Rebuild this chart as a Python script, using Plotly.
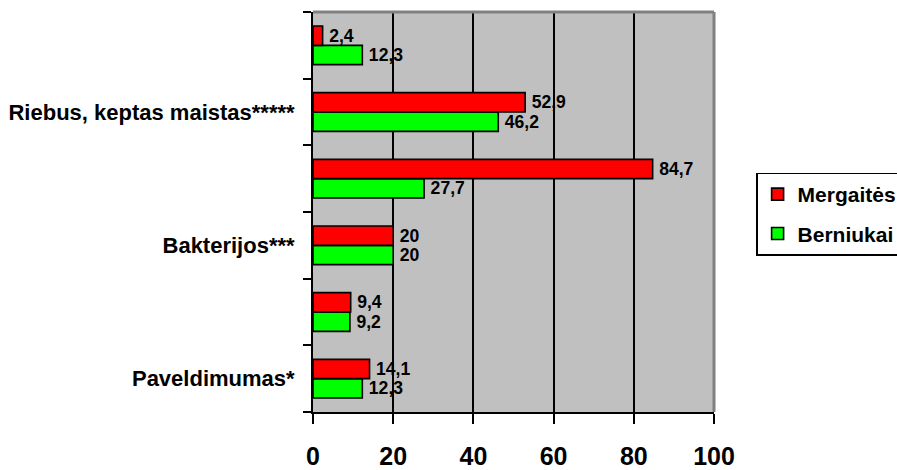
import plotly.graph_objects as go

categories = ["Paveldimumas*", "**", "Bakterijos***", "****", "Riebus, keptas maistas*****", "******"]
tick_labels = ["Paveldimumas*", "", "Bakterijos***", "", "Riebus, keptas maistas*****", ""]
mergaites = [14.1, 9.4, 20, 84.7, 52.9, 2.4]
berniukai = [12.3, 9.2, 20, 27.7, 46.2, 12.3]
x_ticks = [0, 20, 40, 60, 80, 100]


def fmt(v):
    s = ("%g" % v)
    return s.replace(".", ",")


font = "Liberation Sans, Arial, sans-serif"
label_pad = "\u2009"
fig = go.Figure()
fig.add_trace(go.Bar(
    y=categories, x=berniukai, orientation="h", name="Berniukai",
    legendgroup="b", legendrank=2,
    marker=dict(color="#00FF00", line=dict(color="black", width=1.6)),
    text=[label_pad + fmt(v) for v in berniukai], textposition="outside",
    textfont=dict(family=font, size=20, color="black", weight="bold"), cliponaxis=False,
))
fig.add_trace(go.Bar(
    y=categories, x=mergaites, orientation="h", name="Mergaitės",
    legendgroup="m", legendrank=1,
    marker=dict(color="#FF0000", line=dict(color="black", width=1.6)),
    text=[label_pad + fmt(v) for v in mergaites], textposition="outside",
    textfont=dict(family=font, size=20, color="black", weight="bold"), cliponaxis=False,
))

fig.update_layout(
    width=897, height=470,
    margin=dict(l=313, r=183, t=12, b=58, autoexpand=False),
    paper_bgcolor="white", plot_bgcolor="#C0C0C0",
    barmode="group", bargap=0.42, bargroupgap=0,
    font=dict(family=font, color="black", weight="bold"),
    showlegend=True,
    legend=dict(
        x=1.105, y=0.495, xanchor="left", yanchor="middle",
        traceorder="grouped", bordercolor="black", borderwidth=1.5,
        bgcolor="white", font=dict(family=font, size=21, color="black", weight="bold"),
        itemwidth=30, tracegroupgap=9,
    ),
    uniformtext=dict(mode=False),
)
fig.update_xaxes(
    range=[0, 100], tickvals=x_ticks, ticktext=[str(v) for v in x_ticks],
    showgrid=True, gridcolor="black", gridwidth=1.5,
    showline=True, linecolor="black", linewidth=2,
    ticks="outside", ticklen=10, tickwidth=2, tickcolor="black",
    tickfont=dict(family=font, size=25, color="black", weight="bold"),
    ticklabelstandoff=11, zeroline=False, automargin=False,
)
fig.update_yaxes(
    type="category", categoryorder="array", categoryarray=categories,
    tickvals=categories, ticktext=tick_labels,
    tickson="boundaries", ticks="outside", ticklen=8, tickwidth=2, tickcolor="black",
    showline=True, linecolor="black", linewidth=2, showgrid=False,
    tickfont=dict(family=font, size=22, color="black", weight="bold"),
    ticklabelstandoff=12, automargin=False,
)
# grey frame on top and right of plot area
fig.add_shape(type="line", xref="paper", yref="paper", x0=0, x1=1, y0=1, y1=1,
              line=dict(color="#808080", width=3))
fig.add_shape(type="line", xref="paper", yref="paper", x0=1, x1=1, y0=0, y1=1,
              line=dict(color="#808080", width=3))

fig.write_html("out.html", config={"displayModeBar": False},
               post_script="document.body.style.margin='0';document.body.style.overflow='hidden';")
